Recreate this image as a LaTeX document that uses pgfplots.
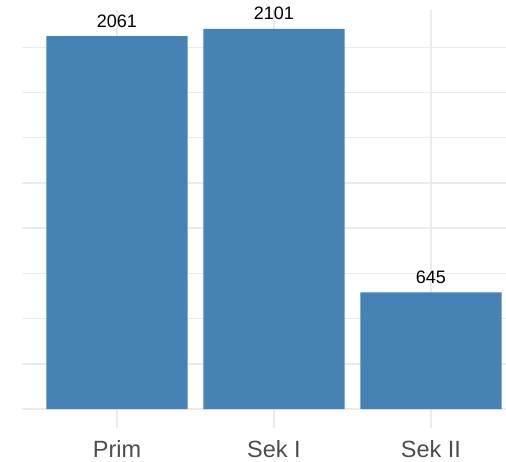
\documentclass[border=0pt]{standalone}
\usepackage{pgfplots}
\pgfplotsset{compat=1.18}
\usepackage{fontspec}
\setmainfont{Liberation Sans}
\definecolor{barc}{HTML}{4682B4}
\definecolor{gridc}{HTML}{EBEBEB}
\definecolor{tickc}{HTML}{4D4D4D}
\begin{document}
\begin{tikzpicture}
\begin{axis}[
  at={(0pt,0pt)}, anchor=south west,
  scale only axis, width=484pt, height=418pt,
  xmin=-0.605, xmax=2.478, ymin=-105.05, ymax=2206.05,
  axis line style={draw=none}, major tick length=0pt,
  xtick={0,1,2},
  xticklabels={Prim,Sek I,Sek II},
  xticklabel style={anchor=north, inner sep=0pt, font=\fontsize{23.5}{26}\selectfont, text=tickc},
  xticklabel shift=12pt,
  ytick={0,250,...,2000}, yticklabels={},
  grid=major, major grid style={draw=gridc, line width=1.5pt},
  ybar, bar width=0.9,
  nodes near coords,
  point meta=explicit symbolic,
  nodes near coords style={anchor=base, inner sep=0pt, yshift=9pt, font=\fontsize{18}{20}\selectfont, text=black},
]
\addplot[fill=barc, draw=none] coordinates {
  (0,2061) [2061]
  (1,2101) [2101]
  (2,645)  [645]
};
\end{axis}
\pgfresetboundingbox
\useasboundingbox (-22pt,-33pt) rectangle (484pt,428pt);
\end{tikzpicture}
\end{document}
